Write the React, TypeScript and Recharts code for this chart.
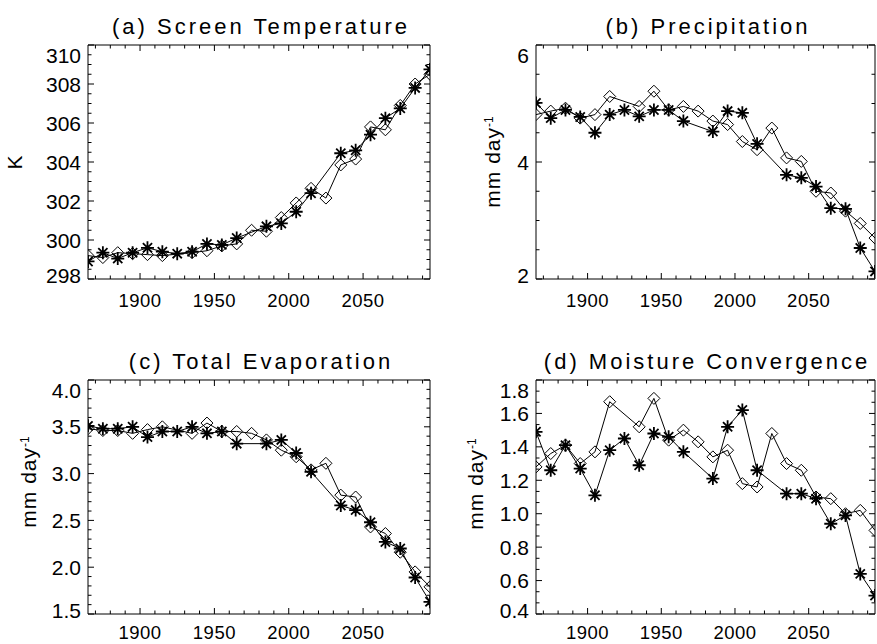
import React from 'react';
import { Line, LineChart, XAxis, YAxis } from 'recharts';

// decadal means, 1865-2095; null = no marker for that decade
const years = [
  1865, 1875, 1885, 1895, 1905, 1915, 1925, 1935, 1945, 1955, 1965, 1975,
  1985, 1995, 2005, 2015, 2025, 2035, 2045, 2055, 2065, 2075, 2085, 2095,
];

const tempDiamond = [
  299.2, 299.1, 299.35, 299.3, 299.25, 299.2, null, 299.35, 299.45, 299.7, 299.8, 300.5,
  300.45, 301.15, 301.9, 302.65, 302.15, 303.85, 304.15, 305.8, 305.65, 306.9, 308.0, 308.5,
];
const tempStar = [
  298.9, 299.35, 299.05, 299.35, 299.6, 299.4, 299.3, 299.4, 299.8, 299.75, 300.1, null,
  300.7, 300.85, 301.45, 302.4, null, 304.45, 304.6, 305.4, 306.25, 306.75, 307.8, 308.75,
];

const precipDiamond = [
  4.81, 4.87, 4.92, 4.75, 4.81, 5.12, null, 4.95, 5.21, 4.89, 4.95, 4.87,
  4.7, 4.64, 4.35, 4.21, 4.58, 4.07, 4.01, 3.5, 3.47, 3.16, 2.95, 2.7,
];
const precipStar = [
  5.01, 4.75, 4.89, 4.77, 4.5, 4.81, 4.89, 4.78, 4.89, 4.89, 4.7, null,
  4.52, 4.87, 4.84, 4.31, null, 3.78, 3.73, 3.58, 3.21, 3.2, 2.53, 2.13,
];

const evapDiamond = [
  3.48, 3.46, 3.46, 3.43, 3.47, 3.5, null, 3.43, 3.54, 3.45, 3.45, 3.43,
  3.36, 3.25, 3.18, 3.04, 3.11, 2.77, 2.75, 2.43, 2.36, 2.16, 1.95, 1.79,
];
const evapStar = [
  3.51, 3.48, 3.48, 3.5, 3.39, 3.45, 3.45, 3.5, 3.43, 3.45, 3.32, null,
  3.32, 3.36, 3.22, 3.02, null, 2.66, 2.61, 2.48, 2.27, 2.2, 1.89, 1.63,
];

const convDiamond = [
  1.28, 1.36, 1.41, 1.3, 1.37, 1.67, null, 1.52, 1.69, 1.44, 1.5, 1.43,
  1.34, 1.38, 1.18, 1.16, 1.48, 1.3, 1.26, 1.1, 1.09, 1.0, 1.02, 0.9,
];
const convStar = [
  1.49, 1.26, 1.41, 1.27, 1.11, 1.38, 1.45, 1.29, 1.48, 1.46, 1.37, null,
  1.21, 1.52, 1.62, 1.26, null, 1.12, 1.12, 1.09, 0.94, 0.99, 0.64, 0.51,
];

// axis ticks
const yearMajor = [1900, 1950, 2000, 2050];
const yearTicks = [
  1870, 1880, 1890, 1900, 1910, 1920, 1930, 1940, 1950, 1960, 1970, 1980,
  1990, 2000, 2010, 2020, 2030, 2040, 2050, 2060, 2070, 2080, 2090,
];
const tempMajor = [298, 300, 302, 304, 306, 308, 310];
const precipMajor = [2, 4, 6];
const evapMajor = [1.5, 2.0, 2.5, 3.0, 3.5, 4.0];
const convMajor = [0.4, 0.6, 0.8, 1.0, 1.2, 1.4, 1.6, 1.8];

const FONT = '"Liberation Sans", Arial, Helvetica, sans-serif';

const stepTicks = (lo: number, hi: number, step: number) => {
  const out: number[] = [];
  const n = Math.round((hi - lo) / step);
  for (let i = 0; i <= n; i++) out.push(+(lo + i * step).toFixed(4));
  return out;
};

const near = (a: number, b: number) => Math.abs(a - b) < 1e-4;

type Side = 'bottom' | 'top' | 'left' | 'right';

const axisTick =
  (
    side: Side,
    majors: number[],
    domain: [number, number],
    fmt?: (v: number) => string,
    labelGap = 28,
  ) =>
  // eslint-disable-next-line
  (props: any) => {
    const { x, y, payload } = props;
    const v = payload.value as number;
    const major = majors.some((m) => near(m, v));
    const len = major ? 6 : 3.5;
    if (side === 'bottom') {
      return (
        <g>
          <line x1={x} y1={y} x2={x} y2={y - len} stroke="#000" />
          {major && (
            <text
              x={x}
              y={y + labelGap}
              textAnchor="middle"
              fontSize={18.5}
              letterSpacing={0.5}
              fontFamily={FONT}
              fill="#000">
              {v}
            </text>
          )}
        </g>
      );
    }
    if (side === 'top') {
      return <line x1={x} y1={y} x2={x} y2={y + len} stroke="#000" />;
    }
    if (side === 'right') {
      return <line x1={x} y1={y} x2={x - len} y2={y} stroke="#000" />;
    }
    let ly = y;
    if (near(v, domain[1])) ly = y + 10;
    if (near(v, domain[0])) ly = y - 4;
    return (
      <g>
        <line x1={x} y1={y} x2={x + len} y2={y} stroke="#000" />
        {major && (
          <text
            x={x - 7}
            y={ly}
            dy="0.36em"
            textAnchor="end"
            fontSize={21}
            fontFamily={FONT}
            fill="#000">
            {fmt ? fmt(v) : v}
          </text>
        )}
      </g>
    );
  };

// eslint-disable-next-line
const Diamond = (props: any) => {
  const { cx, cy } = props;
  if (cx == null || cy == null) return <g />;
  const r = 6;
  return (
    <path
      d={`M${cx},${cy - r}L${cx + r},${cy}L${cx},${cy + r}L${cx - r},${cy}Z`}
      fill="none"
      stroke="#000"
      strokeWidth={1}
    />
  );
};

// eslint-disable-next-line
const Asterisk = (props: any) => {
  const { cx, cy } = props;
  if (cx == null || cy == null) return <g />;
  const r = 6.5;
  const d = 4.6;
  return (
    <path
      d={`M${cx - r},${cy}L${cx + r},${cy}M${cx},${cy - r}L${cx},${cy + r}M${cx - d},${cy - d}L${cx + d},${cy + d}M${cx - d},${cy + d}L${cx + d},${cy - d}`}
      fill="none"
      stroke="#000"
      strokeWidth={1.8}
    />
  );
};

type PanelProps = {
  left: number;
  top: number;
  height: number;
  padL: number;
  padR: number;
  padT: number;
  padB: number;
  labelGap: number;
  domain: [number, number];
  majors: number[];
  minorStep: number;
  fmt?: (v: number) => string;
  diamond: Array<number | null>;
  star: Array<number | null>;
};

const Panel = ({
  left,
  top,
  height,
  padL,
  padR,
  padT,
  padB,
  labelGap,
  domain,
  majors,
  minorStep,
  fmt,
  diamond,
  star,
}: PanelProps) => {
  const data = years.map((year, i) => ({ year, d: diamond[i], s: star[i] }));
  const yTicks = stepTicks(domain[0], domain[1], minorStep);
  const xDomain: [number, number] = [1865, 2095];
  const axisLine = { stroke: '#000', strokeWidth: 1 };

  return (
    <div style={{ position: 'absolute', left, top }}>
      <LineChart data={data} height={height} margin={{ top: 0, right: 0, bottom: 0, left: 0 }} width={440}>
        <XAxis
          allowDataOverflow
          axisLine={axisLine}
          dataKey="year"
          domain={xDomain}
          height={padB}
          interval={0}
          orientation="bottom"
          tick={axisTick('bottom', yearMajor, xDomain, undefined, labelGap)}
          tickLine={false}
          tickMargin={0}
          tickSize={0}
          ticks={yearTicks}
          type="number"
          xAxisId="b"
        />
        <XAxis
          allowDataOverflow
          axisLine={axisLine}
          dataKey="year"
          domain={xDomain}
          height={padT}
          interval={0}
          orientation="top"
          tick={axisTick('top', yearMajor, xDomain)}
          tickLine={false}
          tickMargin={0}
          tickSize={0}
          ticks={yearTicks}
          type="number"
          xAxisId="t"
        />
        <YAxis
          allowDataOverflow
          axisLine={axisLine}
          domain={domain}
          interval={0}
          orientation="left"
          tick={axisTick('left', majors, domain, fmt)}
          tickLine={false}
          tickMargin={0}
          tickSize={0}
          ticks={yTicks}
          type="number"
          width={padL}
          yAxisId="l"
        />
        <YAxis
          allowDataOverflow
          axisLine={axisLine}
          domain={domain}
          interval={0}
          orientation="right"
          tick={axisTick('right', majors, domain)}
          tickLine={false}
          tickMargin={0}
          tickSize={0}
          ticks={yTicks}
          type="number"
          width={padR}
          yAxisId="r"
        />
        <Line
          activeDot={false}
          connectNulls
          dataKey="d"
          dot={Diamond}
          isAnimationActive={false}
          stroke="#000"
          strokeWidth={1}
          type="linear"
          xAxisId="b"
          yAxisId="l"
        />
        <Line
          activeDot={false}
          connectNulls
          dataKey="s"
          dot={Asterisk}
          isAnimationActive={false}
          stroke="#000"
          strokeWidth={1}
          type="linear"
          xAxisId="t"
          yAxisId="r"
        />
      </LineChart>
    </div>
  );
};

const Title = ({ cx, baseline, text }: { cx: number; baseline: number; text: string }) => (
  <div
    style={{
      position: 'absolute',
      left: cx - 200,
      top: baseline - 19,
      width: 400,
      textAlign: 'center',
      fontFamily: FONT,
      fontSize: 22,
      lineHeight: '22px',
      letterSpacing: 3,
      paddingLeft: 3,
      whiteSpace: 'nowrap',
      color: '#000',
    }}>
    {text}
  </div>
);

const YTitle = ({ cx, cy, unit }: { cx: number; cy: number; unit: 'K' | 'mm' }) => (
  <div
    style={{
      position: 'absolute',
      left: cx,
      top: cy,
      transform: 'translate(-50%, -50%) rotate(-90deg)',
      fontFamily: FONT,
      fontSize: 21,
      lineHeight: '21px',
      letterSpacing: 1,
      whiteSpace: 'nowrap',
      color: '#000',
    }}>
    {unit === 'K' ? (
      'K'
    ) : (
      <>
        mm day
        <sup style={{ fontSize: 12, letterSpacing: 0, verticalAlign: 'top', position: 'relative', top: -3 }}>-1</sup>
      </>
    )}
  </div>
);

const fmt1 = (v: number) => v.toFixed(1);
const fmt0 = (v: number) => v.toFixed(0);

const App = () => (
  <div style={{ position: 'absolute', left: 0, top: 0, width: 877, height: 644, background: '#fff', overflow: 'hidden' }}>
    <Panel
      diamond={tempDiamond}
      domain={[298, 310]}
      fmt={fmt0}
      height={320}
      labelGap={28}
      left={0}
      majors={tempMajor}
      minorStep={0.5}
      padB={41}
      padL={88}
      padR={10}
      padT={45}
      star={tempStar}
      top={0}
    />
    <Panel
      diamond={precipDiamond}
      domain={[2, 6]}
      fmt={fmt0}
      height={320}
      labelGap={28}
      left={437}
      majors={precipMajor}
      minorStep={0.5}
      padB={41}
      padL={99}
      padR={2}
      padT={45}
      star={precipStar}
      top={0}
    />
    <Panel
      diamond={evapDiamond}
      domain={[1.5, 4.0]}
      fmt={fmt1}
      height={324}
      labelGap={25}
      left={0}
      majors={evapMajor}
      minorStep={0.1}
      padB={30}
      padL={88}
      padR={10}
      padT={60}
      star={evapStar}
      top={320}
    />
    <Panel
      diamond={convDiamond}
      domain={[0.4, 1.8]}
      fmt={fmt1}
      height={324}
      labelGap={25}
      left={437}
      majors={convMajor}
      minorStep={0.2 / 3}
      padB={30}
      padL={99}
      padR={2}
      padT={60}
      star={convStar}
      top={320}
    />

    <Title baseline={35} cx={258} text="(a) Screen Temperature" />
    <Title baseline={35} cx={705} text="(b) Precipitation" />
    <Title baseline={370} cx={258} text="(c) Total Evaporation" />
    <Title baseline={370} cx={704} text="(d) Moisture Convergence" />

    <YTitle cx={14} cy={162} unit="K" />
    <YTitle cx={492} cy={162} unit="mm" />
    <YTitle cx={28} cy={482} unit="mm" />
    <YTitle cx={475} cy={484} unit="mm" />
  </div>
);

export default App;
